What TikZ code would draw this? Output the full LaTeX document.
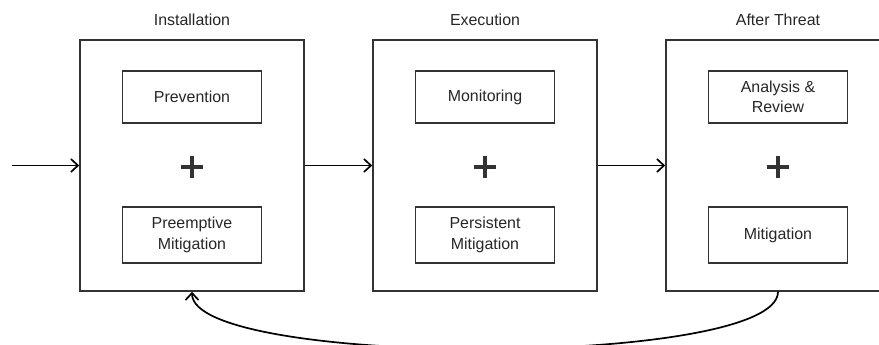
\documentclass[tikz,border=0pt]{standalone}
\usepackage{fontspec}
\setmainfont{Liberation Sans}
\usetikzlibrary{arrows.meta}
\begin{document}
\begin{tikzpicture}[x=1bp,y=-1bp,
  stage/.style={draw=black!80, line width=1.6bp, minimum width=224bp, minimum height=251bp, inner sep=0pt},
  part/.style={draw=black!80, line width=1.6bp, minimum width=139bp, inner sep=0pt, align=center,
    font=\fontsize{16}{20.5}\selectfont, text=black!85},
  toppart/.style={part, minimum height=52bp},
  lowpart/.style={part, minimum height=56bp},
  title/.style={font=\fontsize{16}{20}\selectfont, text=black!85},
  flow/.style={line width=1.7bp, -{Straight Barb[length=7bp,width=13bp,line width=1.7bp]}},
  plus/.style={line width=4.5bp, draw=black!80}]
  \useasboundingbox (0,0) rectangle (879,344);
  \clip (0,0) rectangle (879,344);

  % the three stages
  \node[stage] (s1) at (192,165.5) {};
  \node[stage] (s2) at (485,165.5) {};
  \node[stage] (s3) at (778,165.5) {};

  \node[title] (t1) at (192,20) {Installation};
  \node[title] (t2) at (485,20) {Execution};
  \node[title] (t3) at (778,20) {After Threat};

  % activities inside each stage
  \node[toppart] (a1) at (192,97) {Prevention};
  \node[lowpart] (b1) at (192,235) {Preemptive\\Mitigation};
  \node[toppart] (a2) at (485,97) {Monitoring};
  \node[lowpart] (b2) at (485,235) {Persistent\\Mitigation};
  \node[toppart] (a3) at (778,97) {Analysis \&\\Review};
  \node[lowpart] (b3) at (778,235) {Mitigation};

  % plus signs
  \foreach \x in {192,485,778} {
    \draw[plus] (\x-11,167) -- (\x+11,167);
    \draw[plus] (\x,156) -- (\x,178);
  }

  % connectors
  \coordinate (in) at (12,165.5);
  \draw[flow] (in) -- (s1.west);
  \draw[flow] (s1.east) -- (s2.west);
  \draw[flow] (s2.east) -- (s3.west);
  \draw[flow] (s3.south) .. controls +(0,76) and +(0,76) .. (s1.south);
\end{tikzpicture}
\end{document}
